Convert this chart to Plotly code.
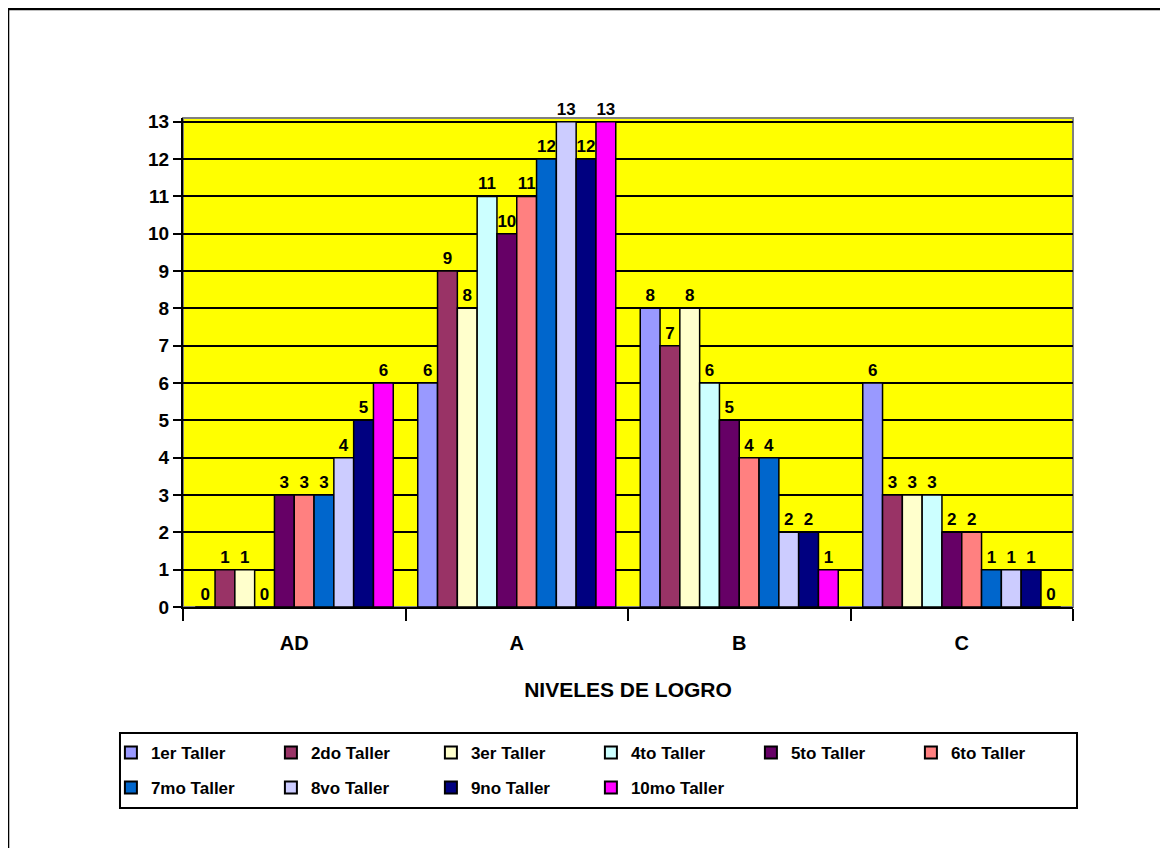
import plotly.graph_objects as go

categories = ["AD", "A", "B", "C"]
series_names = ["1er Taller", "2do Taller", "3er Taller", "4to Taller", "5to Taller",
                "6to Taller", "7mo Taller", "8vo Taller", "9no Taller", "10mo Taller"]
taller1 = [0, 6, 8, 6]
taller2 = [1, 9, 7, 3]
taller3 = [1, 8, 8, 3]
taller4 = [0, 11, 6, 3]
taller5 = [3, 10, 5, 2]
taller6 = [3, 11, 4, 2]
taller7 = [3, 12, 4, 1]
taller8 = [4, 13, 2, 1]
taller9 = [5, 12, 2, 1]
taller10 = [6, 13, 1, 0]
series_values = [taller1, taller2, taller3, taller4, taller5,
                 taller6, taller7, taller8, taller9, taller10]
colors = ["#9999FF", "#993366", "#FFFFCC", "#CCFFFF", "#660066",
          "#FF8080", "#0066CC", "#CCCCFF", "#000080", "#FF00FF"]
y_ticks = list(range(0, 14))

fig = go.Figure()
for i, (name, vals, col) in enumerate(zip(series_names, series_values, colors)):
    fig.add_trace(go.Bar(
        x=categories, y=vals, name=name,
        legend="legend" if i < 6 else "legend2",
        marker=dict(color=col, line=dict(color="black", width=1.5)),
        text=[str(v) for v in vals], textposition="outside",
        textfont=dict(family="Arial", size=17, color="black", weight="bold"),
        cliponaxis=False,
    ))

legend_common = dict(
    orientation="h", x=-0.081, xanchor="left", yanchor="middle",
    borderwidth=0, bgcolor="rgba(0,0,0,0)",
    font=dict(size=17, family="Arial", weight="bold"),
    entrywidth=115, entrywidthmode="pixels",
    itemsizing="constant", traceorder="normal",
)

fig.update_layout(
    width=1168, height=848,
    barmode="group", bargap=0.11, bargroupgap=0,
    paper_bgcolor="white", plot_bgcolor="#FFFF00",
    margin=dict(l=175, r=103, t=110, b=249),
    font=dict(family="Arial", color="black"),
    xaxis=dict(
        showline=True, linecolor="black", linewidth=2,
        ticks="outside", ticklen=12, tickwidth=2, tickcolor="black", tickson="boundaries",
        ticklabelstandoff=17,
        tickfont=dict(size=20, family="Arial", weight="bold"),
        title=dict(text="NIVELES DE LOGRO", font=dict(size=21, family="Arial", weight="bold"), standoff=29),
    ),
    yaxis=dict(
        range=[0, 13.1], tickvals=y_ticks,
        showgrid=True, gridcolor="black", gridwidth=2,
        showline=True, linecolor="black", linewidth=2,
        ticks="outside", ticklen=8, tickwidth=2, tickcolor="black",
        tickfont=dict(size=19, family="Arial", weight="bold"),
        zeroline=False,
    ),
    legend=dict(y=-0.2986, **legend_common),
    legend2=dict(y=-0.370, **legend_common),
    shapes=[
        # outer chart border
        dict(type="rect", xref="paper", yref="paper", x0=-0.1966, x1=1.3, y0=-0.8, y1=1.2229,
             line=dict(color="black", width=2.5), fillcolor="rgba(0,0,0,0)", layer="below"),
        # plot-area wall border
        dict(type="rect", xref="paper", yref="paper", x0=0, x1=1, y0=0, y1=1,
             line=dict(color="#808080", width=2), fillcolor="rgba(0,0,0,0)", layer="below"),
        # legend frame
        dict(type="rect", xref="paper", yref="paper", x0=-0.0708, x1=1.0045, y0=-0.411, y1=-0.2577,
             line=dict(color="black", width=2), fillcolor="rgba(0,0,0,0)", layer="above"),
    ],
)

fig.write_html("out.html")
